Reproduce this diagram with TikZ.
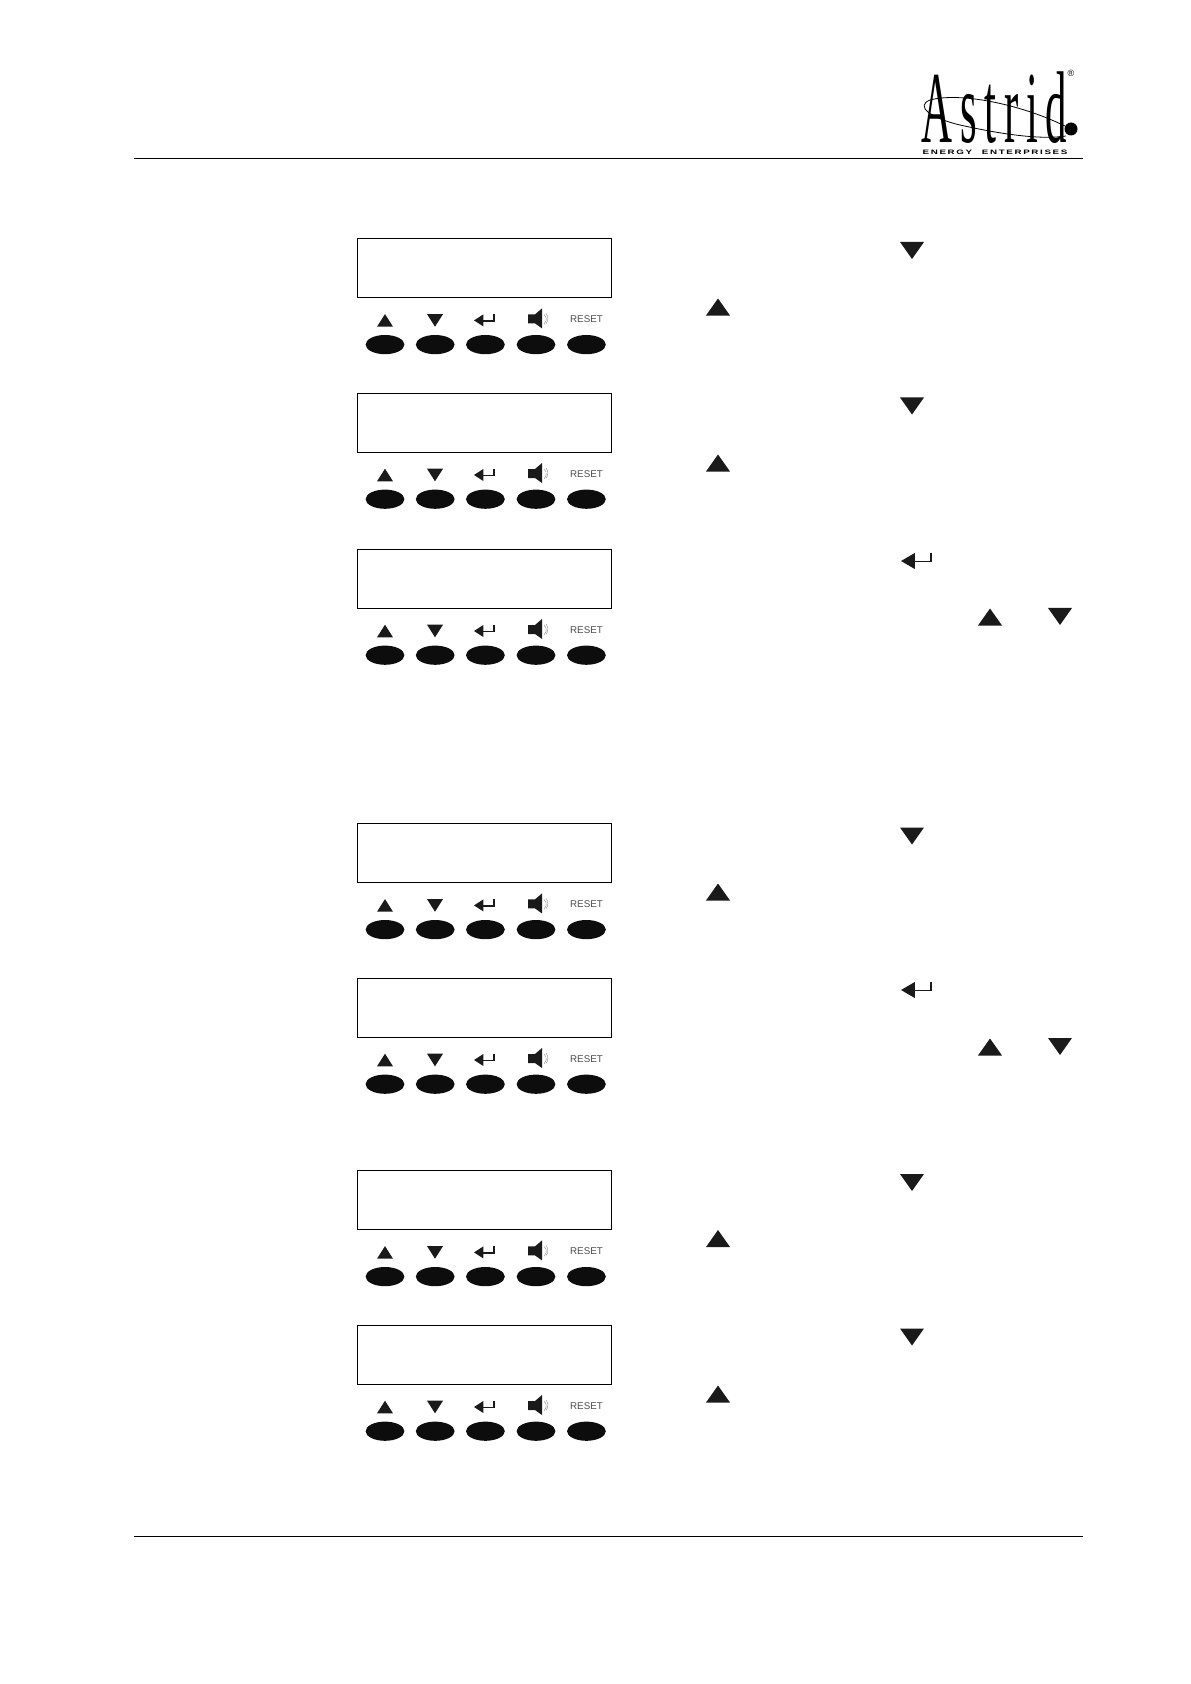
\documentclass[tikz,border=0pt]{standalone}
\usepackage{fontspec}
\setmainfont{Liberation Sans}
\newfontfamily\logofont[LetterSpace=18]{Liberation Serif}
\usetikzlibrary{shapes.geometric, positioning}
\definecolor{inkblack}{HTML}{1A1A1A}
\tikzset{
  lcd/.style={
    rectangle, draw=black, line width=0.45pt,
    minimum width=127pt,
    minimum height=29.5pt,
    inner sep=0pt
  },
  keybutton/.style={
    ellipse, fill=black!95, inner sep=0pt,
    minimum width=19.4pt,
    minimum height=9.6pt
  },
  keylabel/.style={font=\fontsize{4.9}{6}\selectfont, text=black!70, inner sep=0pt},
  rule/.style={line width=0.5pt, black},
  bigkey/.style={xscale=1.5, yscale=1.35},
  % Simboli dei tasti
  upmark/.pic={\fill[inkblack] (-8,6.3) -- (8,6.3) -- (0,-6.3) -- cycle;},
  downmark/.pic={\fill[inkblack] (-8,-6.3) -- (8,-6.3) -- (0,6.3) -- cycle;},
  entermark/.pic={
    \fill[inkblack] (-10,0) -- (-0.7,-6) -- (-0.7,6) -- cycle;
    \draw[inkblack, line width=0.65pt] (-1,0.5) -- (10,0.5) -- (10,-6);
  },
  speakermark/.pic={
    \fill[inkblack] (-8,-5) -- (-1,-5) -- (6,-11) -- (6,9) -- (-1,4) -- (-8,4) -- cycle;
    \draw[black!45, line width=0.2pt] (8,-5) arc (-50:50:6.5 and 6.5);
    \draw[black!45, line width=0.2pt] (10,-6) arc (-40:40:8 and 8);
  }
}
% Pannello: display e tasti sotto
\newcommand{\keypad}[2]{
  \node[lcd] (#1lcd) at (484.5,#2+29.5) {};
  \pic at (385,#2+82) {upmark};
  \pic at (435,#2+82) {downmark};
  \pic at (484,#2+82) {entermark};
  \pic at (536,#2+81) {speakermark};
  \node[keylabel] (#1reset) at (586.5,#2+81) {RESET};
  \node[keybutton] (#1up) at (385,#2+106.2) {};
  \node[keybutton] (#1down) at (435.2,#2+106.2) {};
  \node[keybutton] (#1enter) at (485.4,#2+106.2) {};
  \node[keybutton] (#1speaker) at (536,#2+106.2) {};
  \node[keybutton] (#1rst) at (586.4,#2+106.2) {};
}

\begin{document}
\begin{tikzpicture}[x=0.5pt, y=-0.5pt]
\useasboundingbox (0,0) rectangle (1190,1684);

% Intestazione
\draw[rule] (134,159) -- (1083,159);
\draw[rule] (134,1536) -- (1083,1536);

% Logo
\node[inner sep=0pt, anchor=base, xscale=0.42] (logo) at (994.5,143) {\logofont\fontsize{51}{51}\selectfont Astrid};
\node[inner sep=0pt, xscale=1.53, font=\fontsize{3.2}{3.6}\selectfont\bfseries] (logosub) at (995,152) {E\,N\,E\,R\,G\,Y\quad E\,N\,T\,E\,R\,P\,R\,I\,S\,E\,S};
\node[inner sep=0pt, font=\fontsize{4.5}{5}\selectfont] (logoreg) at (1071,73) {®};
\node[circle, fill=black, inner sep=0pt, minimum size=6.5pt] (logodot) at (1071,129) {};
\draw[line width=0.4pt] (logodot) .. controls (1020,104) and (960,92) .. (930,100) .. controls (915,106) and (930,118) .. (960,125) .. controls (1000,134) and (1040,140) .. (1066,136);

% Primo gruppo
\keypad{pa}{238.4}
\keypad{pb}{393}
\keypad{pc}{549}

\pic[bigkey] at (912,250.5) {downmark};
\pic[bigkey] at (718,307) {upmark};
\pic[bigkey] at (912,406) {downmark};
\pic[bigkey] at (718,463) {upmark};
\pic[bigkey] at (916,561) {entermark};
\pic[bigkey] at (990,617) {upmark};
\pic[bigkey] at (1060,616.5) {downmark};

% Secondo gruppo
\keypad{pd}{823.4}
\keypad{pe}{978}

\pic[bigkey] at (912,836) {downmark};
\pic[bigkey] at (718,892) {upmark};
\pic[bigkey] at (916,990) {entermark};
\pic[bigkey] at (990,1047) {upmark};
\pic[bigkey] at (1060,1046.5) {downmark};

% Terzo gruppo
\keypad{pf}{1170.4}
\keypad{pg}{1325}

\pic[bigkey] at (912,1182.5) {downmark};
\pic[bigkey] at (718,1238.5) {upmark};
\pic[bigkey] at (912,1337) {downmark};
\pic[bigkey] at (718,1394) {upmark};

\end{tikzpicture}
\end{document}
